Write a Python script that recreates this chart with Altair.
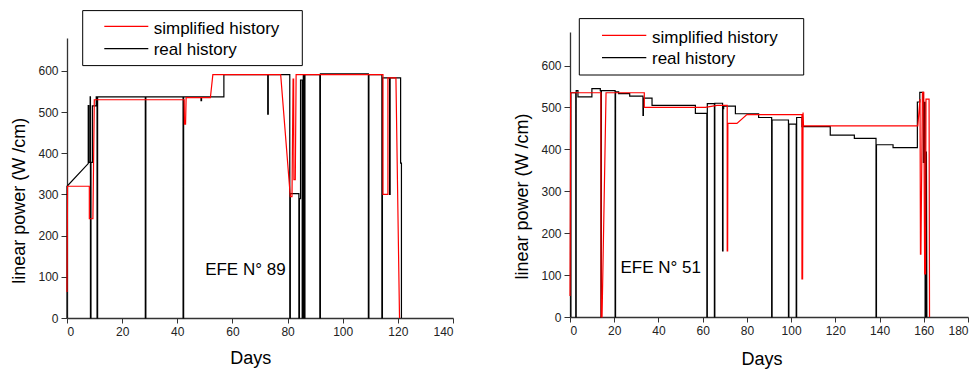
import altair as alt
import pandas as pd

FONT = "Liberation Sans"
SERIES = ["simplified history", "real history"]
COLORS = ["#ff0000", "#000000"]

# ---------------- EFE N° 89 (left panel) ----------------
efe89_real_days = [0, 0, 7.7, 7.7, 7.9, 7.9, 8.4, 8.4, 8.5, 8.5, 8.7, 8.7, 9.2, 9.2, 10.6, 10.6,
                   10.9, 10.9, 11.1, 11.1, 28.4, 28.4, 28.6, 28.6, 42.1, 42.1, 42.3, 42.3,
                   48.6, 48.6, 48.8, 48.8, 56.9, 56.9, 72.8, 72.8, 73.0, 73.0, 80.8, 80.8,
                   81.0, 81.0, 84.1, 84.1, 84.3, 84.3, 84.7, 84.7, 85.3, 85.3, 85.7, 85.7,
                   86.1, 86.1, 86.3, 86.3, 91.7, 91.7, 91.9, 91.9, 109.3, 109.3, 109.5, 109.5,
                   114.2, 114.2, 114.4, 114.4, 117.0, 117.0, 117.2, 117.2, 121.0, 121.0, 121.3, 121.3]
efe89_real_power = [0, 320, 375, 516, 516, 378, 378, 537, 537, 0, 0, 378, 378, 515, 515, 537,
                    537, 0, 0, 537, 537, 0, 0, 537, 537, 0, 0, 537,
                    537, 528, 528, 537, 537, 591, 591, 495, 495, 591, 591, 0,
                    0, 302, 302, 0, 0, 290, 290, 578, 578, 0, 0, 591,
                    591, 0, 0, 591, 591, 0, 0, 593, 593, 0, 0, 591,
                    591, 0, 0, 583, 583, 300, 300, 583, 583, 376, 376, 0]
efe89_simp_days = [0, 0.2, 8.1, 8.1, 9.4, 9.9, 42.5, 42.6, 43.0, 43.2, 52.0, 52.9, 77.5, 81.0,
                   81.6, 82.0, 82.2, 82.3, 82.8, 83.1, 114.6, 114.6, 116.4, 116.4, 119.3, 120.6]
efe89_simp_power = [63, 320, 320, 241, 241, 530, 530, 471, 471, 535, 535, 591, 591, 295,
                    295, 580, 580, 336, 336, 591, 591, 300, 300, 583, 583, 0]

# ---------------- EFE N° 51 (right panel) ----------------
efe51_real_days = [0.4, 0.4, 2.6, 2.6, 2.8, 2.8, 3.6, 3.6, 9.9, 9.9, 13.7, 13.7, 14.0, 14.0, 14.2, 14.2,
                   20.4, 20.4, 20.6, 20.6, 22.0, 22.0, 27.0, 27.0, 33.0, 33.0, 33.2, 33.2, 37.1, 37.1,
                   56.7, 56.7, 61.9, 61.9, 62.1, 62.1, 65.3, 65.3, 65.5, 65.5, 69.0, 69.0, 69.2, 69.2,
                   69.5, 69.5, 74.8, 74.8, 85.3, 85.3, 91.2, 91.2, 91.4, 91.4, 98.8, 98.8, 99.0, 99.0,
                   102.3, 102.3, 102.5, 102.5, 104.9, 104.9, 117.7, 117.7, 128.6, 128.6, 138.4, 138.4,
                   138.6, 138.6, 146.1, 146.1, 157.1, 157.1, 158.2, 158.2, 159.8, 159.8, 160.2, 160.2,
                   160.6, 160.6, 160.9, 160.9, 161.2, 161.4]
efe51_real_power = [0, 535, 535, 0, 0, 540, 540, 525, 525, 545, 545, 540, 540, 0, 0, 540,
                    540, 0, 0, 537, 537, 533, 533, 527, 527, 481, 481, 522, 522, 505,
                    505, 486, 486, 0, 0, 509, 509, 0, 0, 510, 510, 158, 158, 497,
                    497, 503, 503, 485, 485, 476, 476, 0, 0, 470, 470, 0, 0, 460,
                    460, 0, 0, 476, 476, 454, 454, 434, 434, 426, 426, 0,
                    0, 411, 411, 404, 404, 513, 513, 536, 536, 369, 369, 512,
                    512, 0, 0, 115, 395, 0]
efe51_simp_days = [0, 0.3, 14.0, 14.1, 14.5, 16.3, 33.6, 33.6, 61.2, 66.5, 71.1, 71.1, 71.3, 71.4,
                   75.5, 80.0, 104.9, 104.9, 105.2, 105.4, 105.6, 157.3, 158.3, 158.5, 158.7,
                   159.4, 160.0, 160.4, 160.8, 161.0, 162.4, 162.6]
efe51_simp_power = [50, 535, 535, 0, 0, 535, 535, 500, 500, 505, 505, 158, 158, 462,
                    462, 483, 483, 91, 91, 488, 456, 456, 520, 150, 150,
                    536, 536, 103, 103, 520, 520, 0]

# panel annotations
panel_labels = ["EFE N\u00b0 89", "EFE N\u00b0 51"]
label_days = [50.1, 22.8]
label_power = [104, 104]

X_MAX = [140, 180]
Y_MAX = 680


def series_frame(simp_d, simp_p, real_d, real_p):
    rows = []
    for i, (d, p) in enumerate(zip(real_d, real_p)):
        rows.append({"day": d, "power": p, "series": SERIES[1], "i": i})
    for i, (d, p) in enumerate(zip(simp_d, simp_p)):
        rows.append({"day": d, "power": p, "series": SERIES[0], "i": i})
    return pd.DataFrame(rows)


def legend_layers(box, sym_x, rows_y, label_x, base_y):
    """Framed legend drawn in the panel's pixel space (box = x0, x1, y0, y1)."""
    one = pd.DataFrame({"k": [0]})
    frame = alt.Chart(one).mark_rect(fill="white", stroke="black", strokeWidth=1).encode(
        x=alt.value(box[0]), x2=alt.value(box[1]), y=alt.value(box[2]), y2=alt.value(box[3]))
    layers = [frame]
    for k, name in enumerate(SERIES):
        layers.append(alt.Chart(one).mark_rule(color=COLORS[k], strokeWidth=1.3).encode(
            x=alt.value(sym_x[0]), x2=alt.value(sym_x[1]), y=alt.value(rows_y[k])))
        layers.append(alt.Chart(pd.DataFrame({"name": [name]})).mark_text(
            align="left", baseline="alphabetic", font=FONT, fontSize=17, color="black").encode(
            x=alt.value(label_x), y=alt.value(base_y[k]), text="name:N"))
    return layers


def panel(df, xmax, label_idx, w, h, xtitle_x, xtitle_y, ytitle_y, leg):
    x_ticks = list(range(0, xmax + 1, 10))
    y_ticks = list(range(0, 651, 50))
    x_axis = alt.Axis(
        values=x_ticks,
        labelExpr="datum.value % 20 === 0 ? datum.label : ''",
        tickSize={"condition": {"test": "datum.value % 20 === 0", "value": 5}, "value": 3.5},
        title="Days", titleX=xtitle_x, titleY=xtitle_y,
        titleBaseline="alphabetic", titleAlign="center",
        labelPadding=3,
    )
    y_axis = alt.Axis(
        values=y_ticks,
        labelExpr="datum.value % 100 === 0 ? datum.label : ''",
        tickSize={"condition": {"test": "datum.value % 100 === 0", "value": 6}, "value": 3},
        title="linear power (W /cm)", titleX=-43, titleY=ytitle_y,
        titleBaseline="alphabetic", titleAlign="center", titleAngle=270,
        labelPadding=3,
    )
    xs = alt.Scale(domain=[0, xmax], nice=False, zero=False)
    ys = alt.Scale(domain=[0, Y_MAX], nice=False)
    lines = alt.Chart(df).mark_line(strokeWidth=1.2, interpolate="linear").encode(
        x=alt.X("day:Q", scale=xs, axis=x_axis),
        y=alt.Y("power:Q", scale=ys, axis=y_axis),
        color=alt.Color("series:N", scale=alt.Scale(domain=SERIES, range=COLORS), legend=None),
        order=alt.Order("i:Q"),
        detail="series:N",
    )
    ann = pd.DataFrame({"day": [label_days[label_idx]], "power": [label_power[label_idx]],
                        "label": [panel_labels[label_idx]]})
    text = alt.Chart(ann).mark_text(align="left", baseline="alphabetic", font=FONT,
                                    fontSize=17, color="black").encode(
        x=alt.X("day:Q", scale=xs), y=alt.Y("power:Q", scale=ys), text="label:N")
    return alt.layer(lines, text, *legend_layers(**leg)).properties(width=w, height=h)


left = panel(series_frame(efe89_simp_days, efe89_simp_power, efe89_real_days, efe89_real_power),
             X_MAX[0], 0, 386, 280, 183.3, 45, 162.3,
             dict(box=(15.7, 235.3, -27.4, 27.6), sym_x=(37.3, 81.3), rows_y=(-11.7, 10.6),
                  label_x=86.7, base_y=(-4.4, 16.6)))
right = panel(series_frame(efe51_simp_days, efe51_simp_power, efe51_real_days, efe51_real_power),
              X_MAX[1], 1, 398, 285, 191.5, 47, 164.1,
              dict(box=(9.3, 233.7, -13.4, 43.0), sym_x=(32.0, 76.3), rows_y=(3.3, 25.6),
                   label_x=82.0, base_y=(11.0, 31.6)))

# a thin empty strip above the left panel lowers it relative to the right one
spacer = alt.Chart(pd.DataFrame({"v": [0]})).mark_point(opacity=0).encode(
    x=alt.X("v:Q", axis=None), y=alt.Y("v:Q", axis=None)).properties(width=386, height=6)

left_col = alt.vconcat(spacer, left, spacing=0, bounds="flush")

chart = alt.hconcat(left_col, right, spacing=59).resolve_scale(
    color="independent").properties(
    padding={"left": 10, "top": 10, "right": 5, "bottom": 5}
).configure_view(strokeWidth=0).configure_axis(
    grid=False, domainColor="#333333", domainWidth=1.3, tickColor="#333333", tickWidth=1,
    labelFont=FONT, labelFontSize=12, labelColor="#222222",
    titleFont=FONT, titleFontSize=18, titleFontWeight="normal", titleColor="black",
)

chart.save("out.html", embed_options={"renderer": "svg", "actions": False})
